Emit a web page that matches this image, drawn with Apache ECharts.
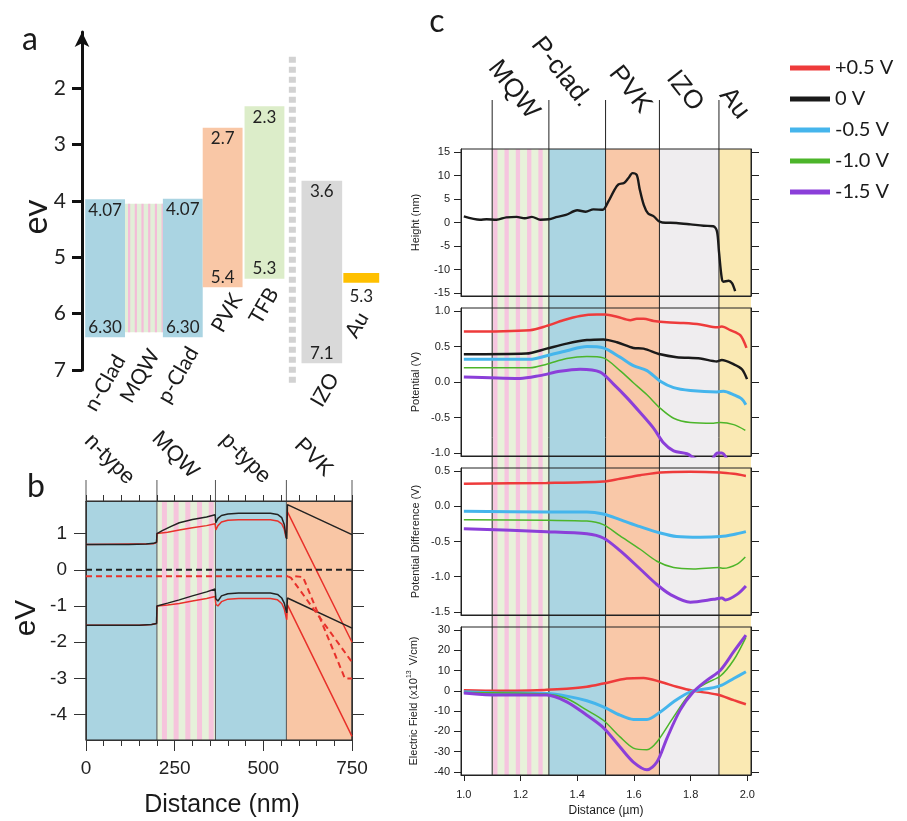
<!DOCTYPE html>
<html>
<head>
<meta charset="UTF-8">
<title>Band diagrams and KPFM profiles</title>
<script src="https://cdn.jsdelivr.net/npm/echarts@6/dist/echarts.min.js"></script>
<style>html,body{margin:0;padding:0;background:#fff;} #fig{width:907px;height:821px;}</style>
</head>
<body>
<div id="fig"></div>
<script>
// ---------- panel a : energy levels (eV) ----------
var aLayers = ['n-Clad', 'MQW', 'p-Clad', 'PVK', 'TFB', 'IZO', 'Au'];
var aTop = [3.97, 4.05, 3.96, 2.70, 2.32, 3.64, 5.28];
var aBottom = [6.42, 6.33, 6.42, 5.53, 5.38, 6.88, 5.45];
var aTopText = ['4.07', '', '4.07', '2.7', '2.3', '3.6', ''];
var aBottomText = ['6.30', '', '6.30', '5.4', '5.3', '7.1', '5.3'];
var aTicks = [2, 3, 4, 5, 6, 7];

// ---------- panel b : simulated bands (eV vs nm) ----------
var bRegions = ['n-type', 'MQW', 'p-type', 'PVK'];
var bEdges = [0, 200, 365, 565, 750];
var bTicks = [-4, -3, -2, -1, 0, 1];
var bBlackUpper = [[0,0.70],[120,0.70],[170,0.71],[190,0.73],[199,0.76],[200,1.0],[215,1.08],[240,1.2],[263,1.3],[300,1.39],[340,1.46],[364,1.52],[366,1.3],[372,1.42],[382,1.5],[400,1.54],[430,1.56],[520,1.56],[540,1.53],[552,1.44],[559,1.25],[564,0.92],[566,0.85],[568,1.8],[750,0.97]];
var bRedUpper = [[0,0.70],[190,0.72],[199,0.75],[200,1.0],[230,1.04],[263,1.1],[300,1.16],[340,1.22],[364,1.27],[366,1.1],[372,1.22],[382,1.32],[400,1.37],[430,1.38],[520,1.38],[540,1.35],[552,1.27],[559,1.12],[564,0.88],[566,0.83],[568,1.6],[750,-2.0]];
var bBlackLower = [[0,-1.53],[150,-1.53],[185,-1.51],[199,-1.48],[200,-1.0],[230,-0.92],[263,-0.83],[300,-0.72],[340,-0.61],[364,-0.53],[366,-0.8],[372,-0.86],[382,-0.72],[400,-0.66],[430,-0.64],[520,-0.64],[540,-0.68],[552,-0.78],[559,-0.92],[564,-1.12],[566,-1.19],[568,-0.78],[750,-1.61]];
var bRedLower = [[0,-1.53],[150,-1.53],[185,-1.51],[199,-1.48],[200,-1.0],[230,-0.97],[263,-0.93],[300,-0.86],[340,-0.79],[364,-0.74],[366,-0.95],[372,-1.0],[382,-0.88],[400,-0.81],[430,-0.79],[520,-0.79],[540,-0.83],[552,-0.93],[559,-1.08],[564,-1.3],[566,-1.38],[568,-0.97],[750,-4.6]];
var bBlackFermi = [[0,0],[750,0]];
var bRedFermi = [[0,-0.18],[570,-0.18]];
var bRedSplitA = [[570,-0.18],[578,-0.22],[750,-2.55]];
var bRedSplitB = [[590,-0.18],[612,-0.2],[730,-3.0],[750,-3.0]];

// ---------- panel c : KPFM line profiles ----------
var cRegions = ['MQW', 'P-clad.', 'PVK', 'IZO', 'Au'];
var cEdges = [1.1, 1.3, 1.5, 1.69, 1.9, 2.013];
var cNames = ['+0.5 V', '0 V', '-0.5 V', '-1.0 V', '-1.5 V'];
var cXTicks = [1.0, 1.2, 1.4, 1.6, 1.8, 2.0];
var heightTicks = [-15, -10, -5, 0, 5, 10, 15];
var potTicks = [-1.0, -0.5, 0.0, 0.5, 1.0];
var pdTicks = [-1.5, -1.0, -0.5, 0.0, 0.5];
var efTicks = [-40, -30, -20, -10, 0, 10, 20, 30];

var heightZero = [[1.0,1.3],[1.057,0.6],[1.08,0.7],[1.115,0.6],[1.15,1.1],[1.186,1.2],[1.215,0.9],[1.24,1.2],[1.27,0.6],[1.30,0.7],[1.33,1.2],[1.36,1.6],[1.40,2.6],[1.43,2.3],[1.457,2.8],[1.49,2.7],[1.51,4.5],[1.53,6.8],[1.545,8.1],[1.565,8.4],[1.58,9.4],[1.595,10.5],[1.61,10.1],[1.62,7.2],[1.635,3.7],[1.65,1.9],[1.67,1.3],[1.687,0.3],[1.70,0],[1.75,-0.1],[1.80,-0.4],[1.846,-0.7],[1.88,-0.8],[1.893,-1.9],[1.90,-6.2],[1.91,-11.9],[1.916,-12.6],[1.934,-12.4],[1.946,-12.9],[1.957,-14.6]];

var potPlus05 = [[1.0,0.71],[1.233,0.73],[1.292,0.79],[1.351,0.87],[1.41,0.93],[1.469,0.95],[1.498,0.95],[1.54,0.92],[1.587,0.87],[1.61,0.89],[1.634,0.89],[1.67,0.86],[1.716,0.84],[1.775,0.83],[1.834,0.81],[1.893,0.77],[1.91,0.78],[1.94,0.73],[1.975,0.66],[1.997,0.48]];
var potZero = [[1.0,0.39],[1.22,0.40],[1.292,0.47],[1.363,0.54],[1.434,0.59],[1.492,0.60],[1.54,0.56],[1.598,0.48],[1.634,0.47],[1.693,0.39],[1.751,0.35],[1.834,0.33],[1.893,0.29],[1.91,0.31],[1.952,0.25],[1.981,0.18],[1.999,0.04]];
var potMinus05 = [[1.0,0.32],[1.233,0.32],[1.292,0.37],[1.363,0.44],[1.434,0.50],[1.492,0.48],[1.551,0.35],[1.598,0.23],[1.646,0.16],[1.693,0.01],[1.74,-0.08],[1.799,-0.12],[1.893,-0.14],[1.916,-0.13],[1.952,-0.18],[1.981,-0.24],[1.995,-0.32]];
var potMinus10 = [[1.0,0.20],[1.233,0.20],[1.292,0.25],[1.363,0.33],[1.434,0.36],[1.492,0.34],[1.551,0.16],[1.598,-0.01],[1.646,-0.18],[1.693,-0.37],[1.74,-0.51],[1.799,-0.57],[1.881,-0.58],[1.905,-0.57],[1.952,-0.60],[1.993,-0.68]];
var potMinus15 = [[1.0,0.07],[1.198,0.05],[1.268,0.09],[1.339,0.15],[1.41,0.18],[1.481,0.14],[1.528,-0.03],[1.575,-0.22],[1.622,-0.43],[1.669,-0.65],[1.705,-0.86],[1.74,-0.97],[1.787,-1.01],[1.83,-1.1],[1.87,-1.1],[1.895,-1.0],[1.91,-1.0],[1.93,-1.1]];

var pdPlus05 = [[1.0,0.32],[1.292,0.33],[1.492,0.35],[1.551,0.39],[1.622,0.44],[1.693,0.48],[1.799,0.49],[1.905,0.48],[1.952,0.46],[1.995,0.43]];
var pdMinus05 = [[1.0,-0.07],[1.292,-0.08],[1.434,-0.08],[1.492,-0.11],[1.551,-0.19],[1.622,-0.29],[1.693,-0.38],[1.751,-0.43],[1.834,-0.44],[1.905,-0.43],[1.952,-0.40],[1.995,-0.36]];
var pdMinus10 = [[1.0,-0.19],[1.292,-0.20],[1.434,-0.21],[1.492,-0.26],[1.551,-0.42],[1.622,-0.61],[1.681,-0.78],[1.74,-0.87],[1.81,-0.89],[1.899,-0.87],[1.916,-0.88],[1.964,-0.82],[1.993,-0.72]];
var pdMinus15 = [[1.0,-0.32],[1.292,-0.36],[1.434,-0.39],[1.492,-0.45],[1.551,-0.63],[1.622,-0.89],[1.681,-1.11],[1.728,-1.25],[1.799,-1.36],[1.881,-1.32],[1.91,-1.30],[1.922,-1.33],[1.964,-1.25],[1.995,-1.13]];

var efPlus05 = [[1.0,0.3],[1.127,0],[1.292,0.5],[1.363,1],[1.434,2],[1.492,3.6],[1.575,6.1],[1.634,6.4],[1.693,4.5],[1.751,2],[1.81,0],[1.893,-1.8],[1.952,-4.6],[1.995,-6.6]];
var efMinus05 = [[1.0,-0.5],[1.127,-1.0],[1.292,-1.3],[1.363,-2.6],[1.434,-4.9],[1.492,-7.9],[1.551,-12],[1.598,-14.1],[1.646,-14.1],[1.693,-10.4],[1.74,-5.4],[1.799,-0.5],[1.881,1.6],[1.91,2.8],[1.952,6.1],[1.995,9.4]];
var efMinus10 = [[1.0,-0.8],[1.292,-1.6],[1.363,-3.8],[1.434,-9.5],[1.492,-14.5],[1.551,-22.7],[1.598,-28.2],[1.646,-29],[1.681,-25.2],[1.74,-12.8],[1.799,-1.3],[1.858,4],[1.905,7.3],[1.952,15.2],[1.995,26.4]];
var efMinus15 = [[1.0,-1],[1.127,-2.1],[1.292,-2.1],[1.363,-5.4],[1.434,-12],[1.492,-18.1],[1.551,-27.7],[1.598,-35.1],[1.646,-38.9],[1.681,-35.1],[1.716,-23.5],[1.763,-9.5],[1.81,-0.5],[1.858,5.3],[1.905,10.2],[1.952,19.3],[1.995,27.5]];

// ---------- layout / style ----------
var aSlots = [[0,1],[1,1.95],[1.95,2.95],[2.95,3.95],[4,5],[5.43,6.45],[6.48,7.38]];
var aFill = ['#aad4e2', null, '#aad4e2', '#f9c7a6', '#dcedc9', '#d9d9d9', '#ffc000'];
var bFill = ['#aad4e1', null, '#aad4e1', '#f9c6a5'];
var cFill = [null, '#abd5e2', '#f9c8a8', '#efedef', '#fae9b3'];
var cColor = {'+0.5 V': '#ee3b3b', '0 V': '#1a1a1a', '-0.5 V': '#45b5ec', '-1.0 V': '#4cb52a', '-1.5 V': '#8b3fd9'};
var cWidth = {'+0.5 V': 2.5, '0 V': 2.5, '-0.5 V': 3, '-1.0 V': 1.5, '-1.5 V': 3};
var CAL = 'Lato', ARI = 'Liberation Sans';

var myChart = echarts.init(document.getElementById('fig'));

function stripes(children, s, e, top, h, off, period, w, bg, pink) {
    children.push({type: 'rect', shape: {x: s, y: top, width: e - s, height: h}, style: {fill: bg}});
    for (var px = s + off; px < e; px += period) {
        children.push({type: 'rect', shape: {x: px, y: top, width: Math.min(w, e - px), height: h}, style: {fill: pink}});
    }
}
function txt(s, x, y, font, rot, align, vAlign) {
    return {type: 'text', x: x, y: y, rotation: rot || 0, silent: true, z: 20,
        style: {text: s, x: 0, y: 0, font: font, fill: '#1a1a1a',
            textAlign: align || 'center', align: align || 'center',
            textVerticalAlign: vAlign || 'middle', verticalAlign: vAlign || 'middle'}};
}

// panel a boxes
function renderLayer(params, api) {
    var i = api.value(4);
    var p0 = api.coord([api.value(0), api.value(2)]);
    var p1 = api.coord([api.value(1), api.value(3)]);
    var x = p0[0], y = p0[1], w = p1[0] - p0[0], h = p1[1] - p0[1];
    var ch = [];
    if (aFill[i]) ch.push({type: 'rect', shape: {x: x, y: y, width: w, height: h}, style: {fill: aFill[i]}});
    else stripes(ch, x, x + w, y, h, 3, 6.7, 2.2, '#e2efd8', '#f4bcd8');
    var cx = x + w / 2, f = '17px ' + CAL;
    if (aTopText[i]) ch.push({type: 'text', style: {text: aTopText[i], x: cx, y: y + 11, font: f, fill: '#222', textAlign: 'center', align: 'center', textVerticalAlign: 'middle', verticalAlign: 'middle'}});
    if (aBottomText[i]) {
        var by = aLayers[i] === 'Au' ? y + h + 14 : y + h - 10;
        ch.push({type: 'text', style: {text: aBottomText[i], x: cx, y: by, font: f, fill: '#222', textAlign: 'center', align: 'center', textVerticalAlign: 'middle', verticalAlign: 'middle'}});
    }
    return {type: 'group', children: ch};
}
function renderDivider(params, api) {
    var p0 = api.coord([api.value(0), api.value(1)]);
    var p1 = api.coord([api.value(0), api.value(2)]);
    return {type: 'line', shape: {x1: p0[0], y1: p0[1], x2: p1[0], y2: p1[1]}, style: {stroke: '#d2d2d2', lineWidth: 7, lineDash: [6, 4]}};
}
// panel b regions
function renderBRegion(params, api) {
    var cs = params.coordSys, i = api.value(2);
    var s = api.coord([api.value(0), 0])[0], e = api.coord([api.value(1), 0])[0];
    var ch = [];
    if (bFill[i]) ch.push({type: 'rect', shape: {x: s, y: cs.y, width: e - s, height: cs.height}, style: {fill: bFill[i]}});
    else stripes(ch, s, e, cs.y, cs.height, 5, 11.7, 5, '#e6f1da', '#f6c4dc');
    ch.push({type: 'line', shape: {x1: s, y1: cs.y - 21, x2: s, y2: cs.y + cs.height}, style: {stroke: '#555', lineWidth: 1}});
    if (i === bRegions.length - 1) ch.push({type: 'line', shape: {x1: e, y1: cs.y - 21, x2: e, y2: cs.y + cs.height}, style: {stroke: '#555', lineWidth: 1}});
    return {type: 'group', children: ch};
}
// panel c regions
function renderCRegion(params, api) {
    var cs = params.coordSys, i = api.value(2);
    var s = api.coord([api.value(0), 0])[0], e = api.coord([api.value(1), 0])[0];
    var top = cs.y + 49, h = cs.height - 49;
    var ch = [];
    if (cFill[i]) ch.push({type: 'rect', shape: {x: s, y: top, width: e - s, height: h}, style: {fill: cFill[i]}});
    else stripes(ch, s, e, top, h, 1, 11.3, 4.3, '#e8f2da', '#f6c5df');
    ch.push({type: 'line', shape: {x1: s, y1: cs.y, x2: s, y2: cs.y + cs.height}, style: {stroke: '#222', lineWidth: 1}});
    return {type: 'group', children: ch};
}

function bLine(data, color, dashed) {
    return {type: 'line', xAxisIndex: 1, yAxisIndex: 1, data: data, symbol: 'none', silent: true, z: 4,
        lineStyle: {color: color, width: dashed ? 2 : 1.5, type: dashed ? [6, 4] : 'solid'}};
}
function cLine(name, data, xi, yi) {
    return {type: 'line', name: name, xAxisIndex: xi, yAxisIndex: yi, data: data, symbol: 'none', showSymbol: false,
        smooth: 0.3, silent: true, z: 4, itemStyle: {color: cColor[name]},
        lineStyle: {color: cColor[name], width: cWidth[name]}};
}
function cXAxis(grid, last) {
    return {gridIndex: grid, type: 'value', min: 0.99, max: 2.013,
        axisLine: {show: true, onZero: false, lineStyle: {color: '#222'}},
        axisTick: {show: !!last, customValues: cXTicks, length: 6, lineStyle: {color: '#222'}},
        axisLabel: {show: !!last, customValues: cXTicks, formatter: function (v) { return Number(v).toFixed(1); },
            fontSize: 11, fontFamily: ARI, color: '#222', margin: 14},
        splitLine: {show: false}};
}
function cYAxes(grid, min, max, ticks, name, digits) {
    return [{gridIndex: grid, type: 'value', min: min, max: max, position: 'left',
        name: name, nameLocation: 'middle', nameGap: 40,
        nameTextStyle: {fontSize: 11, fontFamily: ARI, color: '#222',
            rich: {sup: {fontSize: 7, fontFamily: ARI, color: '#222', verticalAlign: 'top', padding: [0, 2, 8, 0]}}},
        axisLine: {show: true, onZero: false, lineStyle: {color: '#222'}},
        axisTick: {show: true, customValues: ticks, length: 7, lineStyle: {color: '#222'}},
        axisLabel: {customValues: ticks, formatter: function (v) { return Number(v).toFixed(digits); },
            fontSize: 11, fontFamily: ARI, color: '#222', margin: 11},
        splitLine: {show: false}
    }, {gridIndex: grid, type: 'value', min: min, max: max, position: 'right',
        axisLine: {show: true, onZero: false, lineStyle: {color: '#222'}},
        axisTick: {show: true, customValues: ticks, length: 8, lineStyle: {color: '#222'}},
        axisLabel: {show: false}, splitLine: {show: false}}];
}

var frame = {show: true, borderColor: '#222', borderWidth: 1, backgroundColor: 'transparent'};

var option = {
    animation: false,
    backgroundColor: '#fff',
    grid: [
        {left: 82, top: 32, width: 298, height: 338},
        Object.assign({left: 86, top: 501, width: 266, height: 239}, frame),
        Object.assign({left: 461, top: 149, width: 290, height: 147}, frame),
        Object.assign({left: 461, top: 308, width: 290, height: 148}, frame),
        Object.assign({left: 461, top: 468, width: 290, height: 147}, frame),
        Object.assign({left: 461, top: 627, width: 290, height: 148}, frame),
        {left: 461, top: 100, width: 290, height: 675}
    ],
    xAxis: [
        {gridIndex: 0, type: 'value', min: -0.08, max: 7.4, show: false},
        {gridIndex: 1, type: 'value', min: 0, max: 750, interval: 250,
            axisLine: {show: true, onZero: false, lineStyle: {color: '#333'}},
            axisTick: {length: 11, lineStyle: {color: '#333'}},
            minorTick: {show: true, splitNumber: 5, length: 6, lineStyle: {color: '#333'}},
            axisLabel: {fontSize: 19, fontFamily: ARI, color: '#222', margin: 19},
            splitLine: {show: false}},
        {gridIndex: 1, type: 'value', position: 'top', min: 0, max: 750, interval: 50,
            axisLine: {show: true, onZero: false, lineStyle: {color: '#333'}},
            axisTick: {length: 6, lineStyle: {color: '#333'}},
            axisLabel: {show: false}, splitLine: {show: false}},
        cXAxis(2), cXAxis(3), cXAxis(4), cXAxis(5, true),
        {gridIndex: 6, type: 'value', min: 0.99, max: 2.013, show: false}
    ],
    yAxis: [
        {gridIndex: 0, type: 'value', inverse: true, min: 1, max: 7,
            axisLine: {show: true, onZero: false, symbol: ['none', 'arrow'], symbolSize: [11, 15], lineStyle: {color: '#111', width: 3}},
            axisTick: {customValues: aTicks, length: 10, lineStyle: {color: '#111', width: 3}},
            axisLabel: {customValues: aTicks, fontSize: 21, fontFamily: CAL, color: '#222', margin: 16},
            splitLine: {show: false}},
        {gridIndex: 1, type: 'value', min: -4.7, max: 1.9,
            axisLine: {show: true, onZero: false, lineStyle: {color: '#333'}},
            axisTick: {customValues: bTicks, length: 12, lineStyle: {color: '#333'}},
            axisLabel: {customValues: bTicks, fontSize: 19, fontFamily: ARI, color: '#222', margin: 19},
            splitLine: {show: false}},
        {gridIndex: 1, type: 'value', position: 'right', min: -4.7, max: 1.9,
            axisLine: {show: true, onZero: false, lineStyle: {color: '#333'}},
            axisTick: {customValues: bTicks, length: 12, lineStyle: {color: '#333'}},
            axisLabel: {show: false}, splitLine: {show: false}}
    ].concat(
        cYAxes(2, -15.64, 15.64, heightTicks, 'Height (nm)', 0),
        cYAxes(3, -1.042, 1.042, potTicks, 'Potential (V)', 1),
        cYAxes(4, -1.5426, 0.5426, pdTicks, 'Potential Difference (V)', 1),
        cYAxes(5, -41.48, 31.48, efTicks, 'Electric Field (x10{sup|13} V/cm)', 0),
        [{gridIndex: 6, type: 'value', min: 0, max: 1, show: false}]
    ),
    legend: {orient: 'vertical', left: 785, top: 53, itemWidth: 40, itemHeight: 5, itemGap: 11, icon: 'rect',
        selectedMode: false, data: cNames,
        textStyle: {fontSize: 20, fontFamily: CAL, color: '#1a1a1a'}},
    series: [
        {type: 'custom', xAxisIndex: 0, yAxisIndex: 0, silent: true, z: 1, renderItem: renderLayer,
            data: aLayers.map(function (n, i) { return [aSlots[i][0], aSlots[i][1], aTop[i], aBottom[i], i]; })},
        {type: 'custom', xAxisIndex: 0, yAxisIndex: 0, silent: true, z: 1, renderItem: renderDivider,
            data: [[5.2, 1.44, 7.27]]},
        {type: 'custom', xAxisIndex: 1, yAxisIndex: 1, silent: true, z: -1, renderItem: renderBRegion,
            data: bRegions.map(function (n, i) { return [bEdges[i], bEdges[i + 1], i]; })},
        bLine(bRedUpper, '#e8312b'), bLine(bRedLower, '#e8312b'),
        bLine(bBlackUpper, '#222'), bLine(bBlackLower, '#222'),
        bLine(bRedFermi, '#e8312b', true), bLine(bRedSplitA, '#e8312b', true), bLine(bRedSplitB, '#e8312b', true),
        bLine(bBlackFermi, '#222', true),
        {type: 'custom', xAxisIndex: 7, yAxisIndex: 11, silent: true, z: -1, renderItem: renderCRegion,
            data: cRegions.map(function (n, i) { return [cEdges[i], cEdges[i + 1], i]; })},
        {type: 'line', name: 'Height', xAxisIndex: 3, yAxisIndex: 3, data: heightZero, symbol: 'none', smooth: 0.3,
            silent: true, z: 4, lineStyle: {color: '#1a1a1a', width: 2.4}},
        cLine('+0.5 V', potPlus05, 4, 5), cLine('0 V', potZero, 4, 5), cLine('-0.5 V', potMinus05, 4, 5),
        cLine('-1.0 V', potMinus10, 4, 5), cLine('-1.5 V', potMinus15, 4, 5),
        cLine('+0.5 V', pdPlus05, 5, 7), cLine('-0.5 V', pdMinus05, 5, 7),
        cLine('-1.0 V', pdMinus10, 5, 7), cLine('-1.5 V', pdMinus15, 5, 7),
        cLine('+0.5 V', efPlus05, 6, 9), cLine('-0.5 V', efMinus05, 6, 9),
        cLine('-1.0 V', efMinus10, 6, 9), cLine('-1.5 V', efMinus15, 6, 9)
    ],
    graphic: [
        txt('a', 30, 40, '32px ' + CAL),
        txt('ev', 36, 217, '34px ' + CAL, Math.PI / 2),
        txt('n-Clad', 105, 383, '21px ' + CAL, Math.PI / 3),
        txt('MQW', 140, 376, '21px ' + CAL, Math.PI / 3),
        txt('p-Clad', 178, 375, '21px ' + CAL, Math.PI / 3),
        txt('PVK', 227, 313, '21px ' + CAL, Math.PI / 3),
        txt('TFB', 264, 306, '21px ' + CAL, Math.PI / 3),
        txt('IZO', 325, 390, '21px ' + CAL, Math.PI / 3),
        txt('Au', 357, 325, '21px ' + CAL, Math.PI / 3),
        txt('b', 36, 487, '32px ' + CAL),
        txt('n-type', 131, 481, '22px ' + ARI, -Math.PI / 4, 'right'),
        txt('MQW', 195, 475, '22px ' + ARI, -Math.PI / 4, 'right'),
        txt('p-type', 267, 480, '22px ' + ARI, -Math.PI / 4, 'right'),
        txt('PVK', 329, 473, '22px ' + ARI, -Math.PI / 4, 'right'),
        txt('eV', 27, 618, '30px ' + ARI, Math.PI / 2),
        txt('Distance (nm)', 222, 805, '25px ' + ARI),
        txt('c', 437, 22, '32px ' + CAL),
        txt('MQW', 534, 116, '26px ' + ARI, -52 * Math.PI / 180, 'right'),
        txt('P-clad.', 586, 104, '26px ' + ARI, -52 * Math.PI / 180, 'right'),
        txt('PVK', 646, 110, '26px ' + ARI, -52 * Math.PI / 180, 'right'),
        txt('IZO', 698, 108, '26px ' + ARI, -52 * Math.PI / 180, 'right'),
        txt('Au', 744, 116, '26px ' + ARI, -52 * Math.PI / 180, 'right'),
        txt('Distance (\u00b5m)', 606, 811, '12px ' + ARI)
    ]
};
myChart.setOption(option);
</script>
</body>
</html>
